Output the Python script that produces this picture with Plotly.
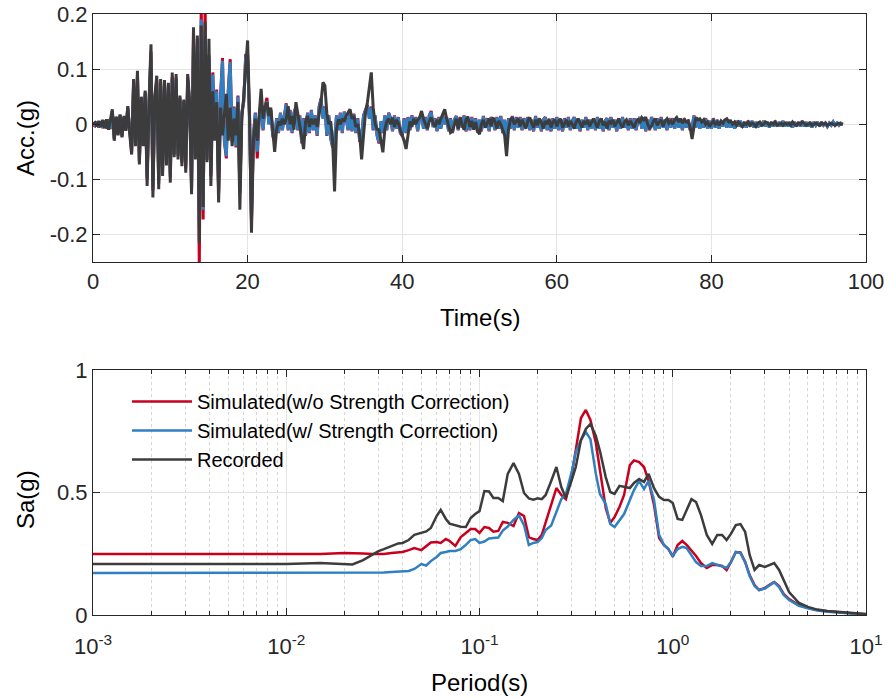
import numpy as np
import plotly.graph_objects as go

# ---------------------------------------------------------------------------
# Ground-motion records (acceleration in g), sampled every DT seconds
# ---------------------------------------------------------------------------
DT = 0.25

acc_recorded = [
    0.000, 0.003, -0.004, 0.006, -0.005, 0.008, -0.007, 0.009, -0.010, 0.012, 0.027, -0.030, 0.014, -0.020, 0.018, -0.024, 0.015, -0.012, 0.033, -0.018,
    -0.055, 0.082, -0.040, 0.097, -0.073, 0.050, -0.040, 0.061, -0.112, 0.040, 0.145, -0.133, 0.050, 0.088, -0.118, 0.082, -0.094, 0.080, -0.075, 0.075,
    -0.106, 0.094, -0.060, 0.091, -0.064, 0.052, -0.076, 0.045, -0.088, 0.091, 0.040, -0.127, 0.176, -0.064, 0.161, -0.215, 0.179, -0.150, 0.185, -0.069,
    0.155, -0.112, 0.060, -0.030, 0.040, -0.142, 0.030, -0.020, 0.020, 0.055, -0.030, 0.030, -0.040, 0.010, -0.020, 0.040, -0.155, 0.010, 0.050, 0.100,
    0.152, 0.020, -0.197, -0.030, 0.010, -0.030, 0.020, 0.064, 0.010, 0.030, 0.040, 0.015, 0.030, -0.005, -0.050, -0.010, 0.005, -0.002, 0.010, 0.000,
    0.010, 0.033, 0.000, 0.015, -0.010, 0.040, 0.020, 0.000, -0.020, -0.045, 0.005, 0.015, -0.005, 0.010, 0.000, 0.010, -0.005, 0.015, 0.040, 0.076,
    0.070, 0.020, 0.000, 0.005, -0.030, -0.122, -0.010, 0.009, 0.000, 0.010, 0.005, 0.015, 0.020, 0.027, 0.010, 0.015, -0.005, 0.000, -0.020, -0.064,
    -0.020, 0.020, 0.040, 0.070, 0.094, 0.030, 0.000, -0.009, -0.010, -0.030, -0.051, -0.010, 0.005, 0.010, 0.000, 0.012, -0.005, 0.008, 0.002, -0.010,
    -0.020, -0.030, -0.045, -0.015, 0.005, -0.005, 0.010, 0.000, 0.008, 0.012, 0.024, 0.010, 0.000, -0.008, 0.005, 0.012, 0.002, -0.005, 0.008, 0.000,
    0.010, 0.020, 0.027, 0.010, -0.005, -0.015, -0.012, 0.000, 0.010, -0.008, 0.012, 0.000, -0.010, 0.008, 0.014, -0.005, 0.006, -0.010, 0.004, -0.012,
    -0.018, 0.000, 0.008, -0.006, 0.004, 0.010, -0.004, 0.012, 0.005, -0.008, 0.006, 0.000, -0.010, -0.020, -0.058, -0.010, 0.008, 0.012, 0.000, 0.006,
    0.010, -0.004, 0.008, 0.000, -0.008, 0.006, 0.012, 0.002, -0.006, 0.008, -0.002, 0.010, 0.004, -0.008, 0.006, 0.000, 0.010, -0.006, 0.004, 0.008,
    -0.004, 0.006, 0.010, -0.006, 0.002, 0.008, -0.004, 0.006, 0.000, -0.008, 0.004, 0.010, 0.002, -0.006, 0.006, 0.000, 0.008, -0.004, 0.004, 0.010,
    0.002, -0.006, 0.006, 0.010, -0.002, 0.004, -0.008, 0.006, 0.002, 0.008, -0.004, 0.004, 0.010, 0.000, -0.006, 0.004, 0.008, -0.002, 0.006, 0.000,
    -0.006, 0.004, 0.010, 0.002, 0.012, 0.008, 0.013, 0.000, -0.007, -0.004, 0.006, 0.010, -0.002, 0.004, 0.008, -0.004, 0.006, 0.010, 0.002, 0.006,
    0.000, 0.008, 0.012, 0.004, 0.010, 0.002, 0.008, 0.004, 0.006, -0.006, -0.027, -0.004, 0.012, 0.008, 0.010, 0.004, 0.008, 0.000, 0.004, -0.004,
    0.002, 0.006, 0.000, 0.004, -0.002, 0.006, 0.002, 0.008, 0.010, 0.004, 0.006, 0.000, 0.004, -0.002, 0.004, 0.000, -0.004, 0.002, 0.000, 0.004,
    -0.002, 0.002, 0.000, -0.004, 0.002, 0.004, -0.002, 0.000, 0.004, 0.002, -0.002, 0.002, 0.000, 0.004, -0.002, 0.000, 0.002, -0.002, 0.002, 0.000,
    0.002, -0.002, 0.004, 0.000, -0.002, 0.002, 0.000, 0.004, 0.002, -0.002, 0.000, 0.002, -0.002, 0.000, 0.002, 0.000, -0.002, 0.002, 0.000, 0.002,
    -0.002, 0.000, 0.002, 0.000, -0.002, 0.000, 0.002, 0.000, 0.000,
]

acc_sim_nocorr = [
    0.000, -0.003, 0.004, -0.006, 0.005, -0.007, 0.006, -0.008, 0.009, -0.009, 0.024, -0.027, 0.013, -0.018, 0.016, -0.022, 0.013, -0.011, 0.030, -0.016,
    -0.050, 0.075, -0.038, 0.090, -0.068, 0.048, -0.038, 0.058, -0.100, 0.038, 0.132, -0.120, 0.048, 0.080, -0.108, 0.076, -0.086, 0.074, -0.070, 0.070,
    -0.096, 0.086, -0.055, 0.084, -0.058, 0.048, -0.070, 0.042, -0.080, 0.085, 0.037, -0.118, 0.165, -0.058, 0.155, -0.260, 0.215, -0.173, 0.215, -0.065,
    0.125, -0.095, 0.094, -0.022, 0.063, -0.125, 0.052, 0.120, -0.032, -0.062, 0.063, 0.118, -0.032, 0.032, -0.042, 0.052, -0.125, 0.021, 0.042, 0.125,
    0.125, 0.011, -0.178, -0.021, 0.021, -0.062, 0.011, 0.042, -0.011, 0.032, 0.048, 0.000, 0.026, -0.021, -0.032, 0.011, -0.016, 0.021, -0.011, 0.016,
    0.038, -0.011, 0.026, -0.016, 0.021, 0.032, -0.011, 0.016, -0.035, 0.011, -0.021, 0.021, -0.016, 0.026, -0.011, 0.016, -0.021, 0.032, 0.047, 0.011,
    0.032, -0.021, 0.016, -0.026, -0.042, -0.032, 0.016, -0.011, 0.021, -0.016, 0.023, 0.011, -0.011, 0.021, -0.013, 0.019, -0.016, 0.011, -0.032, -0.021,
    0.016, 0.026, 0.035, 0.011, 0.032, -0.011, 0.016, -0.021, -0.035, 0.005, -0.016, 0.016, -0.011, 0.021, 0.011, -0.013, 0.016, -0.008, 0.013, -0.016,
    -0.021, 0.011, -0.016, 0.013, -0.011, 0.016, 0.000, 0.013, -0.013, 0.011, 0.019, -0.008, 0.013, -0.011, 0.016, 0.024, -0.005, 0.011, -0.013, 0.013,
    -0.008, 0.016, 0.000, 0.013, -0.013, 0.011, -0.016, 0.008, 0.015, -0.011, 0.013, -0.006, 0.016, -0.013, 0.008, -0.011, 0.013, -0.008, 0.011, -0.015,
    0.008, -0.013, 0.015, -0.006, 0.011, -0.013, 0.013, 0.004, -0.011, 0.013, -0.008, 0.015, -0.016, 0.008, -0.037, 0.011, -0.008, 0.015, -0.011, 0.013,
    -0.006, 0.013, -0.011, 0.011, 0.000, 0.013, -0.011, 0.008, -0.013, 0.015, -0.006, 0.011, -0.013, 0.008, 0.013, -0.011, 0.006, -0.013, 0.011, -0.008,
    0.013, -0.011, 0.008, -0.013, 0.011, -0.006, 0.013, -0.011, 0.006, 0.013, -0.008, 0.011, -0.013, 0.008, -0.006, 0.013, -0.011, 0.008, -0.008, 0.011,
    -0.011, 0.013, -0.008, 0.011, -0.013, 0.006, 0.011, -0.011, 0.013, -0.006, 0.008, -0.013, 0.011, -0.008, 0.013, -0.006, 0.008, -0.011, 0.011, -0.008,
    0.011, -0.011, 0.006, 0.013, -0.008, 0.011, -0.013, 0.008, -0.011, 0.013, 0.004, -0.011, 0.011, -0.008, 0.013, -0.006, 0.008, -0.011, 0.011, -0.006,
    0.011, -0.008, 0.013, -0.006, 0.008, -0.011, 0.011, -0.006, 0.008, -0.011, -0.004, 0.016, -0.006, 0.011, -0.008, 0.008, -0.006, 0.011, -0.008, 0.006,
    -0.008, 0.011, -0.006, 0.008, -0.008, 0.006, -0.004, 0.008, -0.006, 0.008, -0.006, 0.004, -0.008, 0.006, -0.004, 0.006, -0.006, 0.004, -0.006, 0.006,
    -0.004, 0.006, -0.006, 0.004, -0.006, 0.004, -0.004, 0.006, -0.004, 0.004, -0.006, 0.004, -0.004, 0.006, -0.004, 0.004, -0.004, 0.006, -0.004, 0.004,
    -0.004, 0.004, -0.006, 0.004, -0.004, 0.004, -0.004, 0.006, -0.004, 0.004, -0.004, 0.004, -0.006, 0.004, -0.002, 0.004, -0.004, 0.004, -0.002, 0.002,
    -0.004, 0.002, -0.002, 0.004, -0.002, 0.002, -0.002, 0.002, 0.000,
]

acc_sim_corr = [
    0.000, -0.002, 0.004, -0.005, 0.004, -0.006, 0.006, -0.007, 0.008, -0.008, 0.022, -0.025, 0.012, -0.016, 0.015, -0.020, 0.012, -0.010, 0.028, -0.015,
    -0.045, 0.070, -0.035, 0.085, -0.065, 0.045, -0.035, 0.055, -0.095, 0.035, 0.125, -0.115, 0.045, 0.075, -0.100, 0.072, -0.080, 0.070, -0.065, 0.066,
    -0.090, 0.082, -0.052, 0.080, -0.055, 0.045, -0.066, 0.040, -0.075, 0.080, 0.035, -0.110, 0.150, -0.055, 0.140, -0.180, 0.190, -0.155, 0.170, -0.060,
    0.120, -0.090, 0.090, -0.020, 0.060, -0.120, 0.050, 0.115, -0.030, -0.058, 0.060, 0.113, -0.030, 0.030, -0.040, 0.050, -0.120, 0.020, 0.040, 0.120,
    0.120, 0.010, -0.170, -0.020, 0.020, -0.050, 0.010, 0.040, -0.010, 0.030, 0.042, 0.000, 0.025, -0.020, -0.030, 0.010, -0.015, 0.020, -0.010, 0.015,
    0.036, -0.010, 0.025, -0.015, 0.020, 0.030, -0.010, 0.015, -0.033, 0.010, -0.020, 0.020, -0.015, 0.025, -0.010, 0.015, -0.020, 0.030, 0.045, 0.010,
    0.030, -0.020, 0.015, -0.025, -0.040, -0.030, 0.015, -0.010, 0.020, -0.015, 0.022, 0.010, -0.010, 0.020, -0.012, 0.018, -0.015, 0.010, -0.030, -0.020,
    0.015, 0.025, 0.033, 0.010, 0.030, -0.010, 0.015, -0.020, -0.033, 0.005, -0.015, 0.015, -0.010, 0.020, 0.010, -0.012, 0.015, -0.008, 0.012, -0.015,
    -0.020, 0.010, -0.015, 0.012, -0.010, 0.015, 0.000, 0.012, -0.012, 0.010, 0.018, -0.008, 0.012, -0.010, 0.015, 0.022, -0.005, 0.010, -0.012, 0.012,
    -0.008, 0.015, 0.000, 0.012, -0.012, 0.010, -0.015, 0.008, 0.014, -0.010, 0.012, -0.006, 0.015, -0.012, 0.008, -0.010, 0.012, -0.008, 0.010, -0.014,
    0.008, -0.012, 0.014, -0.006, 0.010, -0.012, 0.012, 0.004, -0.010, 0.012, -0.008, 0.014, -0.015, 0.008, -0.025, 0.010, -0.008, 0.014, -0.010, 0.012,
    -0.006, 0.012, -0.010, 0.010, 0.000, 0.012, -0.010, 0.008, -0.012, 0.014, -0.006, 0.010, -0.012, 0.008, 0.012, -0.010, 0.006, -0.012, 0.010, -0.008,
    0.012, -0.010, 0.008, -0.012, 0.010, -0.006, 0.012, -0.010, 0.006, 0.012, -0.008, 0.010, -0.012, 0.008, -0.006, 0.012, -0.010, 0.008, -0.008, 0.010,
    -0.010, 0.012, -0.008, 0.010, -0.012, 0.006, 0.010, -0.010, 0.012, -0.006, 0.008, -0.012, 0.010, -0.008, 0.012, -0.006, 0.008, -0.010, 0.010, -0.008,
    0.010, -0.010, 0.006, 0.012, -0.008, 0.010, -0.012, 0.008, -0.010, 0.012, 0.004, -0.010, 0.010, -0.008, 0.012, -0.006, 0.008, -0.010, 0.010, -0.006,
    0.010, -0.008, 0.012, -0.006, 0.008, -0.010, 0.010, -0.006, 0.008, -0.010, -0.004, 0.015, -0.006, 0.010, -0.008, 0.008, -0.006, 0.010, -0.008, 0.006,
    -0.008, 0.010, -0.006, 0.008, -0.008, 0.006, -0.004, 0.008, -0.006, 0.008, -0.006, 0.004, -0.008, 0.006, -0.004, 0.006, -0.006, 0.004, -0.006, 0.006,
    -0.004, 0.006, -0.006, 0.004, -0.006, 0.004, -0.004, 0.006, -0.004, 0.004, -0.006, 0.004, -0.004, 0.006, -0.004, 0.004, -0.004, 0.006, -0.004, 0.004,
    -0.004, 0.004, -0.006, 0.004, -0.004, 0.004, -0.004, 0.006, -0.004, 0.004, -0.004, 0.004, -0.006, 0.004, -0.002, 0.004, -0.004, 0.004, -0.002, 0.002,
    -0.004, 0.002, -0.002, 0.004, -0.002, 0.002, -0.002, 0.002, 0.000,
]

# ---------------------------------------------------------------------------
# 5%-damped response spectra, Sa (g) against period (s)
# ---------------------------------------------------------------------------
period = [
    0.001, 0.002, 0.005, 0.01, 0.015, 0.02, 0.022, 0.025, 0.028, 0.03,
    0.032, 0.035, 0.038, 0.04, 0.043, 0.046, 0.05, 0.053, 0.056, 0.06,
    0.063, 0.067, 0.07, 0.075, 0.08, 0.085, 0.09, 0.095, 0.1, 0.106,
    0.112, 0.118, 0.125, 0.132, 0.14, 0.15, 0.16, 0.17, 0.18, 0.19,
    0.2, 0.21, 0.22, 0.235, 0.25, 0.265, 0.28, 0.3, 0.315, 0.335,
    0.355, 0.375, 0.4, 0.42, 0.45, 0.475, 0.5, 0.53, 0.56, 0.6,
    0.63, 0.67, 0.71, 0.75, 0.8, 0.85, 0.9, 0.95, 1.0, 1.06,
    1.12, 1.18, 1.25, 1.32, 1.4, 1.5, 1.6, 1.7, 1.8, 1.9,
    2.0, 2.12, 2.24, 2.37, 2.5, 2.65, 2.8, 3.0, 3.15, 3.35,
    3.55, 3.75, 4.0, 4.5, 5.0, 5.6, 6.3, 7.1, 8.0, 9.0, 10.0,
]

sa_recorded = [
    0.208, 0.208, 0.208, 0.208, 0.212, 0.208, 0.206, 0.224, 0.249, 0.261,
    0.269, 0.280, 0.292, 0.294, 0.306, 0.327, 0.335, 0.341, 0.355, 0.404,
    0.429, 0.392, 0.373, 0.365, 0.360, 0.359, 0.396, 0.412, 0.424, 0.506,
    0.504, 0.478, 0.478, 0.465, 0.576, 0.620, 0.576, 0.498, 0.476, 0.471,
    0.476, 0.473, 0.490, 0.547, 0.604, 0.522, 0.478, 0.551, 0.604, 0.714,
    0.759, 0.780, 0.731, 0.669, 0.563, 0.502, 0.494, 0.527, 0.522, 0.518,
    0.539, 0.555, 0.543, 0.576, 0.518, 0.482, 0.469, 0.469, 0.457, 0.392,
    0.388, 0.429, 0.473, 0.461, 0.408, 0.327, 0.290, 0.327, 0.327, 0.306,
    0.331, 0.367, 0.371, 0.339, 0.245, 0.184, 0.204, 0.196, 0.204, 0.212,
    0.184, 0.143, 0.094, 0.049, 0.033, 0.022, 0.016, 0.013, 0.010, 0.008, 0.004,
]

sa_sim_nocorr = [
    0.249, 0.249, 0.249, 0.249, 0.249, 0.253, 0.253, 0.251, 0.249, 0.249,
    0.249, 0.253, 0.255, 0.257, 0.265, 0.273, 0.265, 0.282, 0.296, 0.298,
    0.294, 0.310, 0.302, 0.282, 0.318, 0.335, 0.351, 0.351, 0.335, 0.359,
    0.355, 0.340, 0.343, 0.380, 0.376, 0.363, 0.416, 0.404, 0.318, 0.310,
    0.306, 0.327, 0.380, 0.449, 0.518, 0.490, 0.473, 0.571, 0.673, 0.804,
    0.837, 0.796, 0.702, 0.600, 0.437, 0.376, 0.400, 0.441, 0.490, 0.612,
    0.631, 0.624, 0.604, 0.547, 0.449, 0.314, 0.286, 0.269, 0.238, 0.286,
    0.302, 0.286, 0.265, 0.241, 0.212, 0.192, 0.204, 0.204, 0.200, 0.184,
    0.216, 0.257, 0.255, 0.216, 0.163, 0.122, 0.102, 0.110, 0.122, 0.135,
    0.118, 0.086, 0.065, 0.041, 0.029, 0.020, 0.015, 0.011, 0.008, 0.005, 0.003,
]

sa_sim_corr = [
    0.171, 0.171, 0.171, 0.171, 0.171, 0.171, 0.171, 0.171, 0.171, 0.172,
    0.173, 0.175, 0.177, 0.178, 0.180, 0.188, 0.208, 0.202, 0.220, 0.237,
    0.253, 0.257, 0.261, 0.261, 0.269, 0.286, 0.306, 0.310, 0.294, 0.300,
    0.312, 0.314, 0.316, 0.345, 0.361, 0.388, 0.406, 0.367, 0.286, 0.294,
    0.298, 0.314, 0.347, 0.365, 0.424, 0.473, 0.494, 0.584, 0.665, 0.714,
    0.747, 0.718, 0.576, 0.494, 0.453, 0.371, 0.359, 0.388, 0.412, 0.469,
    0.510, 0.547, 0.514, 0.547, 0.469, 0.327, 0.286, 0.269, 0.241, 0.269,
    0.278, 0.273, 0.241, 0.216, 0.200, 0.200, 0.212, 0.204, 0.196, 0.192,
    0.216, 0.257, 0.253, 0.216, 0.159, 0.118, 0.102, 0.108, 0.120, 0.133,
    0.114, 0.082, 0.061, 0.037, 0.027, 0.018, 0.013, 0.010, 0.007, 0.004, 0.002,
]

series_names = [
    "Simulated(w/o Strength Correction)",
    "Simulated(w/ Strength Correction)",
    "Recorded",
]

x_ticks_time = [0, 20, 40, 60, 80, 100]
y_ticks_acc = [-0.2, -0.1, 0, 0.1, 0.2]
y_ticklabels_acc = ["-0.2", "-0.1", "0", "0.1", "0.2"]
x_ticks_period = [0.001, 0.01, 0.1, 1, 10]
x_ticklabels_period = ["10<sup>-3</sup>", "10<sup>-2</sup>", "10<sup>-1</sup>",
                       "10<sup>0</sup>", "10<sup>1</sup>"]
y_ticks_sa = [0, 0.5, 1]
y_ticklabels_sa = ["0", "0.5", "1"]

# ---------------------------------------------------------------------------
RED = "#C8001E"
BLUE = "#2F7FC1"
DARK = "#3C3C3C"
colors = [RED, BLUE, DARK]
FONT = "Liberation Sans"
AXIS_COLOR = "#262626"
GRID = "#E4E4E4"

W, H = 889, 698
PLOT_L, PLOT_R = 93, 866
TOP_T, TOP_B = 14, 262
BOT_T, BOT_B = 370, 615

fig = go.Figure()

acc_series = [acc_sim_nocorr, acc_sim_corr, acc_recorded]
for name, acc, col in zip(series_names, acc_series, colors):
    t = np.arange(len(acc)) * DT
    fig.add_trace(go.Scatter(
        x=t, y=acc, mode="lines", name=name, showlegend=False,
        line=dict(color=col, width=3.0), xaxis="x", yaxis="y",
    ))

sa_series = [sa_sim_nocorr, sa_sim_corr, sa_recorded]
for name, sa, col in zip(series_names, sa_series, colors):
    fig.add_trace(go.Scatter(
        x=period, y=sa, mode="lines", name=name,
        line=dict(color=col, width=2.5), xaxis="x2", yaxis="y2",
    ))

minor_period = [k * 10.0 ** e for e in range(-3, 1) for k in range(2, 10)]

axis_common = dict(
    showline=True, linecolor=AXIS_COLOR, linewidth=1, mirror="ticks",
    ticks="inside", ticklen=7, tickwidth=1, tickcolor=AXIS_COLOR,
    showgrid=True, gridcolor=GRID, gridwidth=1, zeroline=False,
    automargin=False,
    tickfont=dict(family=FONT, size=22, color=AXIS_COLOR),
)

xdom = [PLOT_L / W, PLOT_R / W]
fig.update_layout(
    width=W, height=H,
    margin=dict(l=0, r=0, t=0, b=0),
    paper_bgcolor="white", plot_bgcolor="white",
    font=dict(family=FONT, color="#000000"),
    xaxis=dict(domain=xdom, anchor="y", range=[0, 100],
               tickmode="array", tickvals=x_ticks_time, **axis_common),
    yaxis=dict(domain=[1 - TOP_B / H, 1 - TOP_T / H], anchor="x",
               range=[-0.25, 0.2], tickmode="array",
               tickvals=y_ticks_acc, ticktext=y_ticklabels_acc, **axis_common),
    xaxis2=dict(domain=xdom, anchor="y2", type="log", range=[-3, 1],
                tickmode="array", tickvals=x_ticks_period,
                ticktext=x_ticklabels_period, ticklabelstandoff=12,
                minor=dict(tickmode="array", tickvals=minor_period,
                           ticks="inside", ticklen=4, tickcolor=AXIS_COLOR,
                           showgrid=True, gridcolor="#D6D6D6",
                           griddash="dot", gridwidth=1),
                **axis_common),
    yaxis2=dict(domain=[1 - BOT_B / H, 1 - BOT_T / H], anchor="x2",
                range=[0, 1], tickmode="array", tickvals=y_ticks_sa,
                ticktext=y_ticklabels_sa, **axis_common),
    legend=dict(x=127 / W, y=1 - 382 / H, xanchor="left", yanchor="top",
                bgcolor="rgba(0,0,0,0)", borderwidth=0,
                font=dict(family=FONT, size=20, color="#000000"),
                tracegroupgap=0, itemwidth=60),
)

title_font = dict(family=FONT, size=24, color="#000000")
fig.add_annotation(text="Time(s)", x=(PLOT_L + PLOT_R) / 2 / W, y=1 - 317 / H,
                   xref="paper", yref="paper", showarrow=False,
                   xanchor="center", yanchor="middle", font=title_font)
fig.add_annotation(text="Acc.(g)", x=25 / W, y=1 - 138 / H,
                   xref="paper", yref="paper", showarrow=False, textangle=-90,
                   xanchor="center", yanchor="middle", font=title_font)
fig.add_annotation(text="Period(s)", x=(PLOT_L + PLOT_R) / 2 / W, y=1 - 682 / H,
                   xref="paper", yref="paper", showarrow=False,
                   xanchor="center", yanchor="middle", font=title_font)
fig.add_annotation(text="Sa(g)", x=25 / W, y=1 - 500 / H,
                   xref="paper", yref="paper", showarrow=False, textangle=-90,
                   xanchor="center", yanchor="middle", font=title_font)

fig.write_html("out.html")
